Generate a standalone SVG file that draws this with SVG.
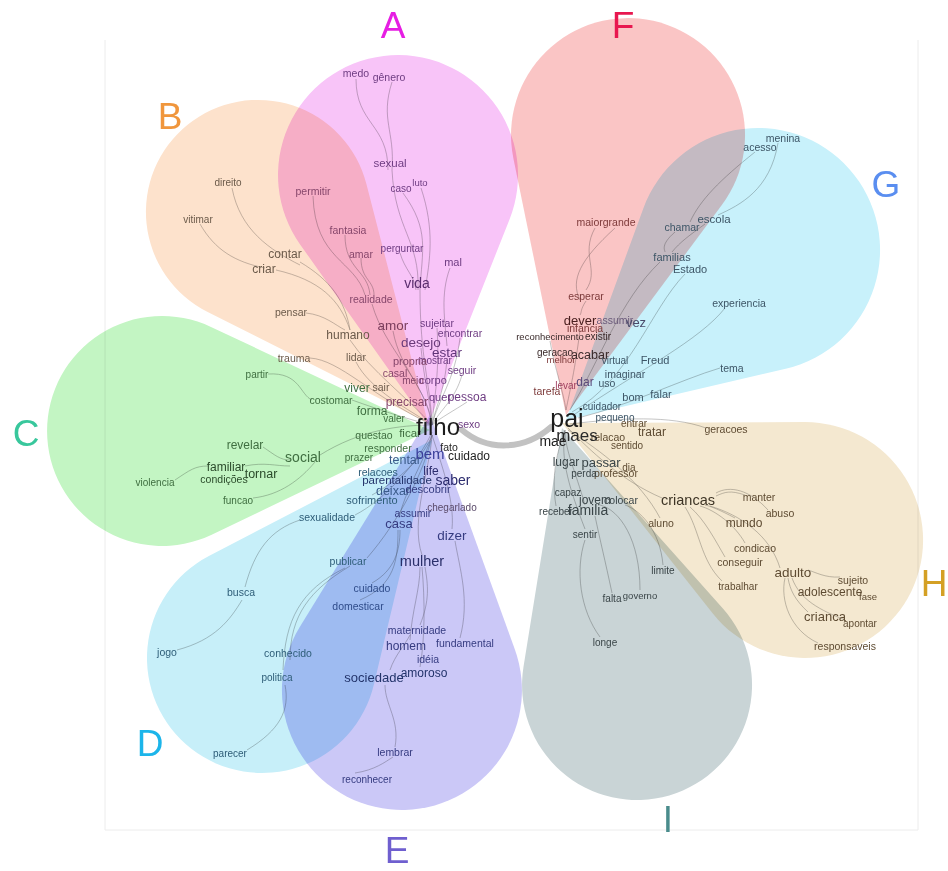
<svg xmlns="http://www.w3.org/2000/svg" width="948" height="871" viewBox="0 0 948 871">
<style>
.pt{mix-blend-mode:multiply}
.w{font-family:"Liberation Sans",Arial,sans-serif;font-size:10.5px}
.w text{text-anchor:middle;dominant-baseline:central}
.L{font-family:"Liberation Sans",Arial,sans-serif;font-size:37px;text-anchor:middle}
.ln{fill:none;stroke:#858585;stroke-width:.8;opacity:.6}
.a{fill:#6e3c82}.p{fill:#86466b}.b{fill:#6b5a4a}.c{fill:#3f6e40}.d{fill:#2e5d78}.e{fill:#353b80}
.f{fill:#7d3a3a}.g{fill:#3d5566}.h{fill:#5e4b32}.i{fill:#3a4548}.k{fill:#1f1f1f}
</style>
<rect width="948" height="871" fill="#ffffff"/>
<path d="M105,40 V830 H918 V40" fill="none" stroke="#ececec" stroke-width="1"/>

<g id="connectors">
<path class="ln" d="M356,79 C356,124 388,124 388,170"/>
<path class="ln" d="M392,82 C380,120 395,130 392,170"/>
<path class="ln" d="M392,170 C395,230 420,240 418,290"/>
<path class="ln" d="M421,188 C435,230 430,260 425,290"/>
<path class="ln" d="M403,193 C430,230 422,250 420,290"/>
<path class="ln" d="M400,253 C405,270 414,275 416,290"/>
<path class="ln" d="M450,268 C440,295 445,320 447,346"/>
<path class="ln" d="M420,290 C420,360 430,380 432,425"/>
<path class="ln" d="M313,196 C315,260 355,260 365,295"/>
<path class="ln" d="M345,235 C345,270 368,270 370,295"/>
<path class="ln" d="M361,258 C361,280 374,280 374,295"/>
<path class="ln" d="M372,304 C385,350 425,380 432,425"/>
<path class="ln" d="M393,331 C400,370 428,390 432,425"/>
<path class="ln" d="M421,348 C424,380 430,400 432,425"/>
<path class="ln" d="M447,358 C445,390 436,405 432,425"/>
<path class="ln" d="M437,328 C440,370 434,400 432,425"/>
<path class="ln" d="M460,338 C455,380 438,400 432,425"/>
<path class="ln" d="M462,375 C455,400 440,410 432,425"/>
<path class="ln" d="M467,402 C455,410 440,418 432,425"/>
<path class="ln" d="M232,188 C240,230 270,250 300,265"/>
<path class="ln" d="M200,224 C215,250 235,262 265,268"/>
<path class="ln" d="M300,262 C330,280 345,300 350,330"/>
<path class="ln" d="M276,270 C320,280 340,300 350,330"/>
<path class="ln" d="M306,313 C325,315 335,325 345,330"/>
<path class="ln" d="M350,340 C370,370 410,400 432,425"/>
<path class="ln" d="M310,358 C340,360 370,395 432,425"/>
<path class="ln" d="M356,362 C370,390 410,410 432,425"/>
<path class="ln" d="M175,480 C190,470 195,466 208,466"/>
<path class="ln" d="M245,466 C265,462 275,466 290,466"/>
<path class="ln" d="M263,447 C275,455 280,460 290,460"/>
<path class="ln" d="M253,498 C280,495 300,480 315,462"/>
<path class="ln" d="M320,455 C360,430 400,425 432,425"/>
<path class="ln" d="M268,374 C300,372 300,395 312,400"/>
<path class="ln" d="M352,400 C380,410 410,420 432,425"/>
<path class="ln" d="M177,650 C215,640 230,620 242,600"/>
<path class="ln" d="M245,587 C255,550 270,530 300,520"/>
<path class="ln" d="M355,515 C385,500 420,460 432,432"/>
<path class="ln" d="M247,750 C280,730 290,710 285,685"/>
<path class="ln" d="M283,670 C285,620 300,590 345,568"/>
<path class="ln" d="M290,660 C290,615 310,590 350,566"/>
<path class="ln" d="M367,558 C400,520 425,470 432,435"/>
<path class="ln" d="M360,600 C395,585 398,560 398,530"/>
<path class="ln" d="M372,583 C395,570 400,550 400,530"/>
<path class="ln" d="M399,518 C405,490 425,460 432,435"/>
<path class="ln" d="M372,495 C400,480 425,455 432,435"/>
<path class="ln" d="M355,773 C375,770 385,762 393,757"/>
<path class="ln" d="M395,747 C400,720 385,705 385,685"/>
<path class="ln" d="M390,670 C395,655 405,645 410,635"/>
<path class="ln" d="M410,640 C412,610 420,590 420,567"/>
<path class="ln" d="M420,667 C425,640 425,600 422,567"/>
<path class="ln" d="M460,638 C470,600 460,570 455,541"/>
<path class="ln" d="M420,625 C430,600 428,585 425,567"/>
<path class="ln" d="M422,555 C410,520 430,470 432,435"/>
<path class="ln" d="M452,529 C455,500 440,460 432,435"/>
<path class="ln" d="M595,228 C580,255 600,270 586,290"/>
<path class="ln" d="M615,228 C580,260 570,280 580,300"/>
<path class="ln" d="M586,301 C580,310 582,312 580,315"/>
<path class="ln" d="M580,330 C575,370 570,390 566,410"/>
<path class="ln" d="M550,341 C555,370 563,390 566,410"/>
<path class="ln" d="M755,152 C720,180 700,200 690,222"/>
<path class="ln" d="M778,143 C770,190 740,205 718,215"/>
<path class="ln" d="M705,224 C690,235 680,242 672,252"/>
<path class="ln" d="M675,232 C660,245 665,250 665,252"/>
<path class="ln" d="M660,262 C620,300 600,360 570,410"/>
<path class="ln" d="M685,274 C650,310 630,380 572,412"/>
<path class="ln" d="M725,308 C700,340 640,370 575,414"/>
<path class="ln" d="M720,368 C680,380 630,405 578,418"/>
<path class="ln" d="M818,643 C790,630 780,600 785,578"/>
<path class="ln" d="M808,612 C795,600 790,590 788,578"/>
<path class="ln" d="M840,577 C825,578 815,572 808,570"/>
<path class="ln" d="M845,620 C820,610 800,600 792,578"/>
<path class="ln" d="M780,568 C770,535 740,515 710,506"/>
<path class="ln" d="M735,518 C720,510 710,506 705,505"/>
<path class="ln" d="M745,543 C735,525 715,510 700,506"/>
<path class="ln" d="M725,557 C715,540 705,520 690,507"/>
<path class="ln" d="M722,581 C700,560 700,530 685,507"/>
<path class="ln" d="M745,495 C730,490 725,492 716,496"/>
<path class="ln" d="M768,510 C750,490 730,485 716,493"/>
<path class="ln" d="M662,498 C620,480 590,450 568,428"/>
<path class="ln" d="M706,428 C670,415 620,418 570,424"/>
<path class="ln" d="M660,518 C640,480 600,450 568,430"/>
<path class="ln" d="M600,637 C580,610 575,570 585,540"/>
<path class="ln" d="M585,529 C570,490 560,460 565,430"/>
<path class="ln" d="M612,593 C605,560 600,540 595,516"/>
<path class="ln" d="M640,590 C640,540 620,510 600,505"/>
<path class="ln" d="M663,565 C660,530 640,510 625,505"/>
<path class="ln" d="M585,505 C575,470 565,450 565,430"/>
<path class="ln" d="M556,506 C550,470 560,445 565,430"/>
<path d="M462,430 C488,452 525,450 551,427" fill="none" stroke="#c2c2c2" stroke-width="6" stroke-linecap="round"/>
</g>

<g id="petal-A">
<path class="pt" fill="#f8c4f8" d="M428,425 L300.1,244.4 A120,120 0 1 1 509.6,219.2 Z"/>
<text class="L" x="393" y="38" fill="#e61ee3">A</text>
</g>
<g id="petal-B">
<path class="pt" fill="#fde2cc" d="M428,423 L207.7,312 A112,112 0 1 1 366.4,184 Z"/>
<text class="L" x="170" y="129" fill="#f0963c">B</text>
</g>
<g id="petal-C">
<path class="pt" fill="#c3f5c3" d="M430,430 L211.7,534.7 A115,115 0 1 1 211,326.9 Z"/>
<text class="L" x="26" y="446" fill="#38c79c">C</text>
</g>
<g id="petal-D">
<path class="pt" fill="#c7eff9" d="M432,440 L373.9,684.5 A115,115 0 1 1 208.9,556 Z"/>
<text class="L" x="150" y="756" fill="#1cb5ea">D</text>
</g>
<g id="petal-E">
<path class="pt" fill="#cbc8f7" d="M430,415 L514.8,649.2 A120,120 0 1 1 299.6,627.3 Z"/>
<text class="L" x="397" y="863" font-size="36" fill="#6f5fcf">E</text>
</g>
<g id="petal-F">
<path class="pt" fill="#fac5c5" d="M566,415 L513.4,158.5 A117,117 0 1 1 722,204.8 Z"/>
<text class="L" x="623" y="38" fill="#e8174f">F</text>
</g>
<g id="petal-G">
<path class="pt" fill="#c8f1fb" d="M566,420 L643.5,208 A122,122 0 1 1 785.7,368.8 Z"/>
<text class="L" x="886" y="197" fill="#5a8ef0">G</text>
</g>
<g id="petal-H">
<path class="pt" fill="#f4e8d0" d="M562,423 L804.6,422 A118,118 0 1 1 712.6,613.3 Z"/>
<text class="L" x="934" y="596" fill="#d4a024">H</text>
</g>
<g id="petal-I">
<path class="pt" fill="#c9d4d6" d="M562,428 L722.9,608.5 A115,115 0 1 1 523.5,666.8 Z"/>
<text class="L" x="668" y="832" fill="#4a8c8c">I</text>
</g>

<g id="words-A" class="w">
<text class="a" x="356" y="73">medo</text>
<text class="a" x="389" y="77">gênero</text>
<text class="a" x="390" y="163" font-size="11.5">sexual</text>
<text class="a" x="401" y="188" font-size="10">caso</text>
<text class="a" x="420" y="182" font-size="9.5">luto</text>
<text class="a" x="453" y="262" font-size="11">mal</text>
<text class="a" x="402" y="248" font-size="10">perguntar</text>
<text x="417" y="283" font-size="14" fill="#5a2d6e">vida</text>
<text class="a" x="437" y="323">sujeitar</text>
<text class="a" x="460" y="333">encontrar</text>
<text x="421" y="342" font-size="13.5" fill="#6a3a7a">desejo</text>
<text x="447" y="352" font-size="13.5" fill="#5e3378">estar</text>
<text class="a" x="435" y="360" font-size="10">mostrar</text>
<text class="a" x="462" y="370">seguir</text>
<text class="a" x="433" y="380" font-size="11">corpo</text>
<text class="a" x="440" y="397" font-size="11">quer</text>
<text class="a" x="467" y="397" font-size="12">pessoa</text>
<text class="a" x="469" y="424">sexo</text>
<text class="p" x="313" y="191">permitir</text>
<text class="p" x="348" y="230">fantasia</text>
<text class="p" x="361" y="254">amar</text>
<text class="p" x="371" y="299">realidade</text>
<text x="393" y="325" font-size="13.5" fill="#7a3d5c">amor</text>
<text class="p" x="410" y="361" font-size="11">propria</text>
<text class="p" x="395" y="373">casal</text>
<text class="p" x="413" y="380" font-size="10">meio</text>
<text class="p" x="407" y="402" font-size="12">precisar</text>
</g>

<g id="words-B" class="w">
<text class="b" x="228" y="182" font-size="10">direito</text>
<text class="b" x="198" y="219" font-size="10">vitimar</text>
<text class="b" x="285" y="254" font-size="12">contar</text>
<text class="b" x="264" y="269" font-size="12">criar</text>
<text class="b" x="291" y="312">pensar</text>
<text class="b" x="348" y="335" font-size="12">humano</text>
<text class="b" x="356" y="357">lidar</text>
<text class="b" x="294" y="358">trauma</text>
<text class="b" x="381" y="387">sair</text>
</g>

<g id="words-C" class="w">
<text class="c" x="357" y="388" font-size="12">viver</text>
<text class="c" x="257" y="374" font-size="10">partir</text>
<text class="c" x="331" y="400">costomar</text>
<text class="c" x="245" y="445" font-size="12">revelar</text>
<text class="c" x="303" y="457" font-size="14">social</text>
<text x="226" y="467" font-size="12" fill="#2a4a2a">familiar</text>
<text x="224" y="479" fill="#2a4a2a">condições</text>
<text x="261" y="474" font-size="12.5" fill="#2a4a2a">tornar</text>
<text class="c" x="155" y="482" font-size="10">violencia</text>
<text class="c" x="238" y="500" font-size="10">funcao</text>
<text class="c" x="372" y="411" font-size="12">forma</text>
<text class="c" x="394" y="418" font-size="10">valer</text>
<text class="c" x="374" y="435">questao</text>
<text class="c" x="410" y="433" font-size="11.5">ficar</text>
<text class="c" x="388" y="448">responder</text>
<text class="c" x="359" y="457" font-size="10">prazer</text>
</g>

<g id="words-D" class="w">
<text class="d" x="378" y="472">relacoes</text>
<text x="397" y="480" font-size="11.5" fill="#23336a">parentalidade</text>
<text class="d" x="372" y="500" font-size="11">sofrimento</text>
<text class="d" x="327" y="517">sexualidade</text>
<text class="d" x="348" y="561">publicar</text>
<text class="d" x="241" y="592">busca</text>
<text class="d" x="167" y="652">jogo</text>
<text class="d" x="288" y="653">conhecido</text>
<text class="d" x="277" y="677" font-size="10">politica</text>
<text class="d" x="230" y="753" font-size="10">parecer</text>
<text x="372" y="588" fill="#2f4c8a">cuidado</text>
<text x="358" y="606" fill="#2f4c8a">domesticar</text>
<text x="405" y="460" font-size="12.5" fill="#3a5a8a">tentar</text>
<text x="393" y="491" font-size="12.5" fill="#3a5a8a">deixar</text>
</g>

<g id="words-E" class="w">
<text x="430" y="453" font-size="15" fill="#3a3f9a">bem</text>
<text class="k" x="449" y="447">fato</text>
<text class="k" x="469" y="456" font-size="12">cuidado</text>
<text x="431" y="471" font-size="12" fill="#2c2c6e">life</text>
<text x="453" y="480" font-size="14" fill="#2c2c6e">saber</text>
<text class="e" x="428" y="489" font-size="11">descobrir</text>
<text class="e" x="413" y="513">assumir</text>
<text x="452" y="507" font-size="10" fill="#5a4a6a">chegarlado</text>
<text class="e" x="399" y="523" font-size="13">casa</text>
<text class="e" x="452" y="535" font-size="13.5">dizer</text>
<text x="422" y="561" font-size="14.5" fill="#2a2f6a">mulher</text>
<text class="e" x="417" y="630">maternidade</text>
<text class="e" x="406" y="646" font-size="12">homem</text>
<text class="e" x="465" y="643">fundamental</text>
<text class="e" x="428" y="659">idéia</text>
<text x="374" y="677" font-size="13" fill="#22336a">sociedade</text>
<text x="424" y="673" font-size="12" fill="#22336a">amoroso</text>
<text class="e" x="395" y="752">lembrar</text>
<text class="e" x="367" y="779" font-size="10">reconhecer</text>
</g>

<g id="words-F" class="w">
<text class="f" x="606" y="222">maiorgrande</text>
<text class="f" x="586" y="296">esperar</text>
<text x="580" y="320" font-size="13" fill="#4a2020">dever</text>
<text x="615" y="320" fill="#6a5a7a">assumir</text>
<text x="636" y="322" font-size="13" fill="#4a4a6a">vez</text>
<text class="f" x="585" y="328" font-size="10.5">infancia</text>
<text x="550" y="336" font-size="9.5" fill="#3a2a2a">reconhecimento</text>
<text x="598" y="336" font-size="10" fill="#3a2a2a">existir</text>
<text x="555" y="352" font-size="10" fill="#3a2a2a">geracao</text>
<text class="f" x="561" y="359" font-size="9.5">melhor</text>
<text x="590" y="355" font-size="12.5" fill="#3a2a2a">acabar</text>
<text class="f" x="547" y="391">tarefa</text>
<text x="566" y="385" font-size="10" fill="#a04060">levar</text>
<text x="585" y="382" font-size="12" fill="#5a4a7a">dar</text>
</g>

<g id="words-G" class="w">
<text class="g" x="783" y="138">menina</text>
<text class="g" x="760" y="147">acesso</text>
<text class="g" x="714" y="219" font-size="11.5">escola</text>
<text class="g" x="682" y="227">chamar</text>
<text class="g" x="672" y="257" font-size="11">familias</text>
<text class="g" x="690" y="269" font-size="11">Estado</text>
<text class="g" x="739" y="303">experiencia</text>
<text class="g" x="615" y="360" font-size="10">virtual</text>
<text class="g" x="655" y="360" font-size="11">Freud</text>
<text class="g" x="625" y="374">imaginar</text>
<text class="g" x="607" y="383">uso</text>
<text class="g" x="633" y="397" font-size="11">bom</text>
<text class="g" x="661" y="394" font-size="11">falar</text>
<text class="g" x="732" y="368">tema</text>
<text class="g" x="602" y="406" font-size="10">cuidador</text>
<text class="g" x="615" y="417" font-size="10">pequeno</text>
</g>

<g id="words-H" class="w">
<text class="h" x="634" y="423" font-size="10">entrar</text>
<text class="h" x="652" y="432" font-size="12">tratar</text>
<text class="h" x="608" y="437">relacao</text>
<text class="h" x="627" y="445" font-size="10">sentido</text>
<text class="h" x="629" y="467" font-size="10">dia</text>
<text class="h" x="616" y="473">professor</text>
<text class="h" x="726" y="429">geracoes</text>
<text x="688" y="500" font-size="14.5" fill="#3d3425">criancas</text>
<text class="h" x="759" y="497">manter</text>
<text class="h" x="780" y="513">abuso</text>
<text class="h" x="744" y="523" font-size="12">mundo</text>
<text class="h" x="755" y="548">condicao</text>
<text class="h" x="740" y="562">conseguir</text>
<text class="h" x="738" y="586" font-size="10">trabalhar</text>
<text class="h" x="661" y="523">aluno</text>
<text class="h" x="793" y="572" font-size="13.5">adulto</text>
<text class="h" x="853" y="580">sujeito</text>
<text class="h" x="830" y="592" font-size="12">adolescente</text>
<text class="h" x="868" y="596" font-size="9.5">fase</text>
<text class="h" x="825" y="616" font-size="13">crianca</text>
<text class="h" x="860" y="623" font-size="10">apontar</text>
<text class="h" x="845" y="646">responsaveis</text>
</g>

<g id="words-I" class="w">
<text x="553" y="441" font-size="14" fill="#222">mae</text>
<text x="577" y="435" font-size="17" fill="#2a2a2a">maes</text>
<text class="i" x="566" y="462" font-size="12">lugar</text>
<text class="i" x="601" y="462" font-size="13">passar</text>
<text class="i" x="584" y="473" font-size="10">perda</text>
<text class="i" x="568" y="492" font-size="10">capaz</text>
<text class="i" x="595" y="500" font-size="12">jovem</text>
<text class="i" x="621" y="500">colocar</text>
<text class="i" x="556" y="511" font-size="10">receber</text>
<text class="i" x="588" y="510" font-size="14">familia</text>
<text class="i" x="585" y="534" font-size="10">sentir</text>
<text class="i" x="663" y="570" font-size="10">limite</text>
<text class="i" x="612" y="598" font-size="10">falta</text>
<text class="i" x="640" y="595" font-size="9.5">governo</text>
<text class="i" x="605" y="642" font-size="10">longe</text>
</g>

<g id="node-filho" class="w">
<text x="438" y="426" font-size="24" fill="#1c1c1c">filho</text>
</g>
<g id="node-pai" class="w">
<text x="567" y="418" font-size="25" fill="#1c1c1c">pai</text>
</g>
</svg>
